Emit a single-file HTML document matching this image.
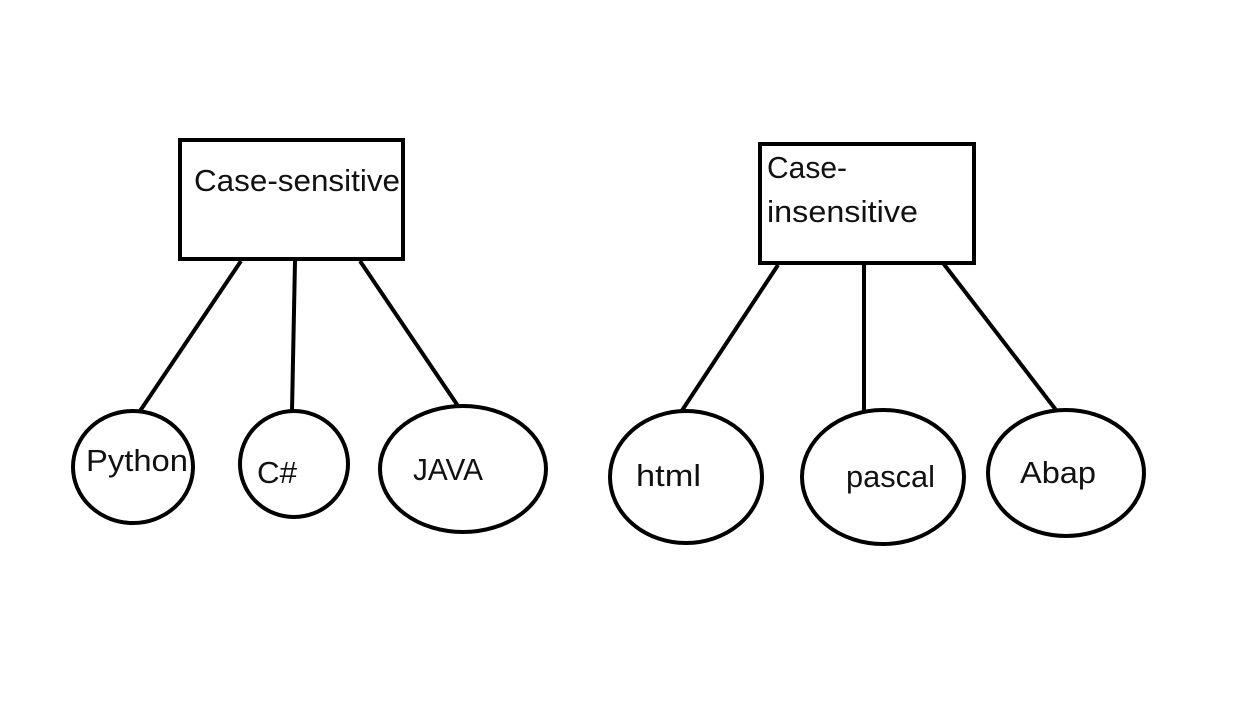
<!DOCTYPE html>
<html><head><meta charset="utf-8"><style>
html,body{margin:0;padding:0;background:#fff;}
svg text{font-family:"Liberation Sans",sans-serif;font-size:31px;fill:#111;}
</style></head><body>
<svg width="1260" height="703" viewBox="0 0 1260 703" xmlns="http://www.w3.org/2000/svg">
<g stroke="#000" stroke-width="4" fill="none">
<rect x="180" y="140" width="223" height="119"/>
<rect x="760" y="144" width="214" height="119"/>
<line x1="241" y1="261" x2="140" y2="411"/>
<line x1="295" y1="261" x2="292" y2="411"/>
<line x1="360" y1="261" x2="458" y2="406"/>
<line x1="778" y1="265" x2="681" y2="412"/>
<line x1="864" y1="265" x2="864" y2="412"/>
<line x1="943" y1="263" x2="1056" y2="410"/>
<ellipse cx="133" cy="467" rx="60" ry="56"/>
<ellipse cx="294" cy="464" rx="54" ry="53"/>
<ellipse cx="463" cy="469" rx="83" ry="63"/>
<ellipse cx="686" cy="477" rx="76" ry="66"/>
<ellipse cx="883" cy="477" rx="81" ry="67"/>
<ellipse cx="1066" cy="473" rx="78" ry="63"/>
</g>
<text x="194" y="191" textLength="206" lengthAdjust="spacingAndGlyphs">Case-sensitive</text>
<text x="767" y="178" textLength="80" lengthAdjust="spacingAndGlyphs">Case-</text>
<text x="767" y="222" textLength="151" lengthAdjust="spacingAndGlyphs">insensitive</text>
<text x="86" y="471" textLength="102" lengthAdjust="spacingAndGlyphs">Python</text>
<text x="257" y="483" textLength="40" lengthAdjust="spacingAndGlyphs">C#</text>
<text x="413" y="480" textLength="70" lengthAdjust="spacingAndGlyphs">JAVA</text>
<text x="636" y="486" textLength="65" lengthAdjust="spacingAndGlyphs">html</text>
<text x="846" y="487" textLength="89" lengthAdjust="spacingAndGlyphs">pascal</text>
<text x="1020" y="483" textLength="76" lengthAdjust="spacingAndGlyphs">Abap</text>
</svg>
</body></html>
